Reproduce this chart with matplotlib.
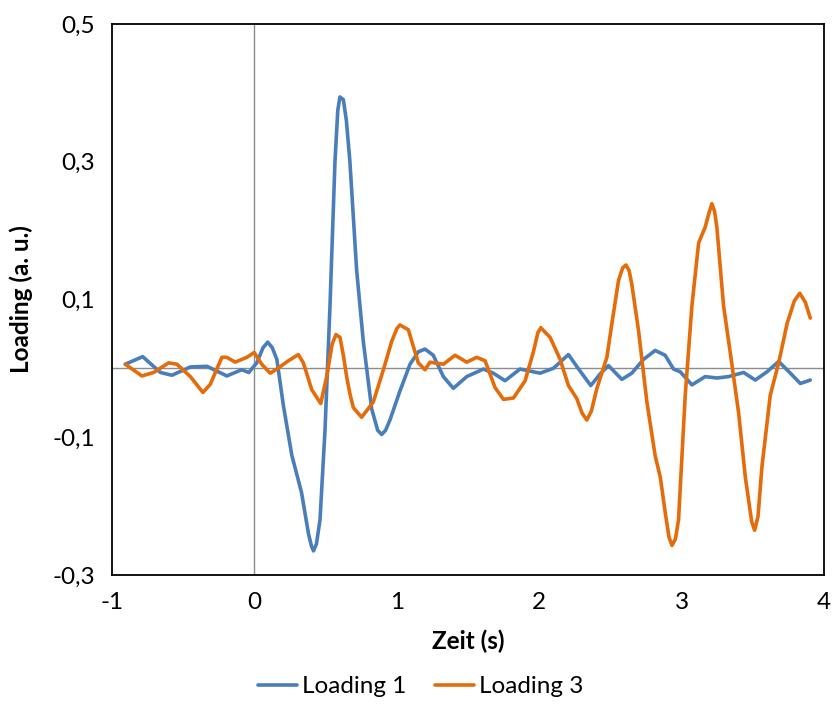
import matplotlib
matplotlib.use("Agg")
import matplotlib.pyplot as plt

# ===============================
# DATA
# ===============================
t_load1 = [-0.907, -0.785, -0.66, -0.58, -0.45, -0.334, -0.194, -0.09, -0.04, 0.016,
           0.06, 0.093, 0.125, 0.157, 0.203, 0.262, 0.33, 0.379, 0.40, 0.414, 0.435, 0.46, 0.495, 0.53,
           0.565, 0.585, 0.60, 0.624, 0.645, 0.67, 0.717, 0.764, 0.823, 0.865, 0.893, 0.92, 0.951, 1.021,
           1.092, 1.15, 1.197, 1.255, 1.326, 1.396, 1.49, 1.607, 1.677, 1.759, 1.864,
           2.005, 2.098, 2.204, 2.286, 2.361, 2.427, 2.485, 2.579, 2.649, 2.731,
           2.813, 2.883, 2.942, 2.989, 3.071, 3.164, 3.246, 3.328, 3.434, 3.516,
           3.598, 3.68, 3.762, 3.832, 3.902]
load1 = [0.006, 0.017, -0.006, -0.010, 0.002, 0.003, -0.011, -0.002, -0.006, 0.008,
         0.030, 0.038, 0.030, 0.013, -0.054, -0.126, -0.18, -0.24, -0.258, -0.265, -0.255, -0.22, -0.09, 0.09,
         0.30, 0.375, 0.394, 0.390, 0.36, 0.30, 0.143, 0.039, -0.059, -0.090, -0.096, -0.090, -0.075, -0.033,
         0.006, 0.024, 0.028, 0.019, -0.012, -0.029, -0.012, -0.001, -0.007, -0.018, -0.001,
         -0.007, 0.0, 0.02, -0.004, -0.025, -0.008, 0.004, -0.016, -0.007, 0.013,
         0.026, 0.019, -0.001, -0.005, -0.024, -0.012, -0.014, -0.012, -0.006, -0.017,
         -0.005, 0.01, -0.007, -0.022, -0.017]

t_load3 = [-0.907, -0.79, -0.708, -0.603, -0.544, -0.45, -0.362, -0.31, -0.229, -0.194,
           -0.135, -0.054, -0.002, 0.051, 0.11, 0.157, 0.238, 0.308, 0.343, 0.402,
           0.465, 0.507, 0.545, 0.572, 0.600, 0.624, 0.647, 0.671, 0.694, 0.752, 0.834, 0.905, 0.963,
           1.00, 1.021, 1.08, 1.15, 1.197, 1.232, 1.326, 1.408, 1.49, 1.56, 1.619,
           1.689, 1.748, 1.818, 1.9, 1.958, 1.99, 2.01, 2.075, 2.146, 2.204, 2.263,
           2.30, 2.333, 2.365, 2.404, 2.474, 2.509, 2.556, 2.585, 2.608, 2.63, 2.649, 2.696, 2.755, 2.813,
           2.849, 2.884, 2.91, 2.931, 2.955, 2.977, 3.024, 3.071, 3.118, 3.164, 3.19, 3.211, 3.23, 3.246,
           3.293, 3.34, 3.399, 3.446, 3.49, 3.511, 3.535, 3.563, 3.621, 3.68, 3.739, 3.79, 3.828,
           3.867, 3.902]
load3 = [0.006, -0.011, -0.006, 0.008, 0.006, -0.012, -0.035, -0.023, 0.016, 0.016,
         0.009, 0.016, 0.023, 0.006, -0.007, -0.001, 0.011, 0.02, 0.008, -0.031,
         -0.051, -0.012, 0.035, 0.049, 0.045, 0.019, -0.012, -0.038, -0.057, -0.071, -0.049, -0.002, 0.039,
         0.058, 0.063, 0.056, 0.008, -0.002, 0.009, 0.006, 0.019, 0.009, 0.016, 0.011,
         -0.028, -0.045, -0.043, -0.018, 0.024, 0.052, 0.059, 0.045, 0.013, -0.025, -0.044,
         -0.065, -0.075, -0.062, -0.029, 0.016, 0.065, 0.128, 0.146, 0.15, 0.142, 0.122, 0.055, -0.049, -0.127,
         -0.158, -0.21, -0.245, -0.257, -0.248, -0.22, -0.039, 0.091, 0.182, 0.205, 0.225, 0.239, 0.228, 0.205,
         0.091, 0.023, -0.065, -0.158, -0.222, -0.235, -0.215, -0.142, -0.039, 0.008, 0.065, 0.098, 0.109,
         0.096, 0.073]

x_ticks = [-1, 0, 1, 2, 3, 4]
y_ticks = [-0.3, -0.1, 0.1, 0.3, 0.5]

# ===============================
# PLOT
# ===============================
plt.rcParams['font.family'] = ['Lato', 'DejaVu Sans']

fig = plt.figure(figsize=(8.33, 7.26), dpi=100)
ax = fig.add_axes([0.1345, 0.208, 0.855, 0.759])

ax.axhline(0, color='#8c8c8c', lw=1, zorder=1)
ax.axvline(0, color='#8c8c8c', lw=1, zorder=1)

ax.plot(t_load1, load1, color='#4a7ebb', lw=2.6, label='Loading 1',
        solid_joinstyle='round', solid_capstyle='round', zorder=3)
ax.plot(t_load3, load3, color='#e46c0a', lw=2.6, label='Loading 3',
        solid_joinstyle='round', solid_capstyle='round', zorder=3)

ax.set_xlim(-1, 4)
ax.set_ylim(-0.3, 0.5)
ax.set_xticks(x_ticks)
ax.set_yticks(y_ticks)
ax.set_xticklabels([str(v) for v in x_ticks])
ax.set_yticklabels([f"{v:.1f}".replace('.', ',') for v in y_ticks])
ax.tick_params(length=0, labelsize=17.5, pad=12)

for s in ax.spines.values():
    s.set_linewidth(1.3)
    s.set_color('black')

ax.set_xlabel('Zeit (s)', fontsize=17.5, fontweight='bold', labelpad=12)
ax.set_ylabel('Loading (a. u.)', fontsize=17.5, fontweight='bold', labelpad=14)

fig.legend(loc='center', bbox_to_anchor=(0.505, 0.054), ncol=2, frameon=False,
           fontsize=17.5, handlelength=1.6, handletextpad=0.2, columnspacing=1.2)

fig.savefig('out.png', dpi=100)
